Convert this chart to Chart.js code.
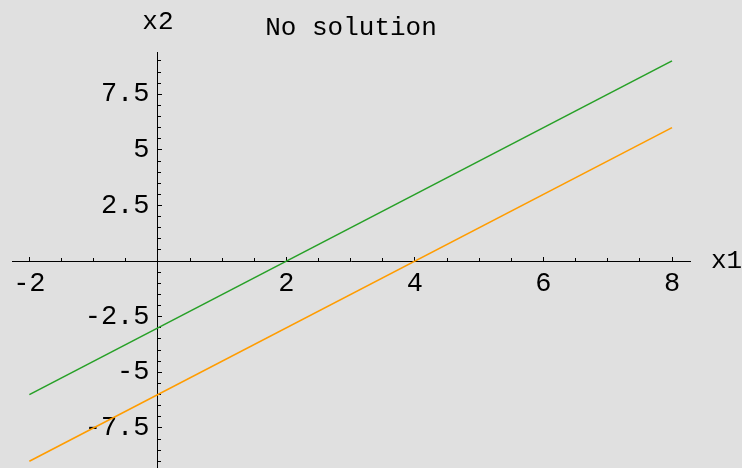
<!DOCTYPE html>
<html>
<head>
<meta charset="utf-8">
<script src="https://cdn.jsdelivr.net/npm/chart.js@4.4.1/dist/chart.umd.min.js"></script>
<style>
  html, body { margin: 0; padding: 0; background: #e0e0e0; }
  #plot { display: block; }
</style>
</head>
<body>
<canvas id="plot" width="742" height="468"></canvas>
<script>
// endpoints of the two lines
const xValues = [-2, 8];
const greenLine = [-6, 9];     // x2 = 1.5 x1 - 3
const orangeLine = [-9, 6];    // x2 = 1.5 x1 - 6

// tick positions (Mathematica style: labelled majors, small minors)
const xMajorTicks = [-2, 2, 4, 6, 8];
const xMinorTicks = [-2, -1.5, -1, -0.5, 0, 0.5, 1, 1.5, 2, 2.5, 3, 3.5, 4, 4.5, 5, 5.5, 6, 6.5, 7, 7.5, 8];
const yMajorTicks = [-7.5, -5, -2.5, 2.5, 5, 7.5];
const yMinorTicks = [-9, -8.5, -8, -7.5, -7, -6.5, -6, -5.5, -5, -4.5, -4, -3.5, -3, -2.5, -2, -1.5, -1, -0.5,
                     0, 0.5, 1, 1.5, 2, 2.5, 3, 3.5, 4, 4.5, 5, 5.5, 6, 6.5, 7, 7.5, 8, 8.5, 9];

const xRange = { min: -2.27, max: 8.28 };
const yRange = { min: -9.3, max: 9.4 };

const MONO = '"Liberation Mono", "Courier New", monospace';

const setTicks = (values) => (scale) => { scale.ticks = values.map(v => ({ value: v })); };

// axes sit inside the plot, so they must not take any layout room
const flatten = (scale) => {
  if (scale.isHorizontal()) scale.height = 0;
  else scale.width = 0;
  scale.paddingTop = 0;
  scale.paddingBottom = 0;
  scale.paddingLeft = 0;
  scale.paddingRight = 0;
};

const background = {
  id: 'background',
  beforeDraw(chart) {
    const { ctx, width, height } = chart;
    ctx.save();
    ctx.fillStyle = '#e0e0e0';
    ctx.fillRect(0, 0, width, height);
    ctx.restore();
  }
};

// axis names "x1" / "x2" next to the axis lines
const axisNames = {
  id: 'axisNames',
  afterDraw(chart) {
    const { ctx, chartArea, scales } = chart;
    ctx.save();
    ctx.fillStyle = '#000';
    ctx.font = '26px ' + MONO;
    ctx.textBaseline = 'middle';
    ctx.textAlign = 'left';
    ctx.fillText('x1', chartArea.right + 21, scales.y.getPixelForValue(0));
    ctx.textAlign = 'center';
    ctx.textBaseline = 'alphabetic';
    ctx.fillText('x2', scales.x.getPixelForValue(0), 29);
    ctx.restore();
  }
};

function axisScale(axis, extra) {
  const range = axis === 'x' ? xRange : yRange;
  return Object.assign({
    type: 'linear',
    axis: axis,
    min: range.min,
    max: range.max,
    afterFit: flatten,
    border: { display: false },
    grid: { drawOnChartArea: false, color: '#000', tickColor: '#000', tickWidth: 1 },
    ticks: { display: false, autoSkip: false }
  }, extra);
}

new Chart(document.getElementById('plot'), {
  type: 'scatter',
  data: {
    datasets: [
      {
        label: 'green',
        data: xValues.map((x, i) => ({ x: x, y: greenLine[i] })),
        showLine: true,
        borderColor: '#27a027',
        borderWidth: 1.6,
        pointRadius: 0
      },
      {
        label: 'orange',
        data: xValues.map((x, i) => ({ x: x, y: orangeLine[i] })),
        showLine: true,
        borderColor: '#ff9c00',
        borderWidth: 1.6,
        pointRadius: 0
      }
    ]
  },
  options: {
    responsive: false,
    animation: false,
    events: [],
    layout: { padding: { left: 12, right: 52, top: 0, bottom: 0 } },
    plugins: {
      legend: { display: false },
      tooltip: { enabled: false },
      title: {
        display: true,
        text: 'No solution',
        fullSize: false,
        color: '#000',
        font: { family: MONO, size: 26, weight: 'normal', lineHeight: 1 },
        padding: { top: 15, bottom: 11 }
      }
    },
    scales: {
      // horizontal axis line with major ticks and labels
      x: axisScale('x', {
        position: { y: 0 },
        afterBuildTicks: setTicks(xMajorTicks),
        border: { display: true, color: '#000', width: 1 },
        grid: { drawOnChartArea: false, tickColor: '#000', tickLength: -5 },
        ticks: {
          autoSkip: false,
          maxRotation: 0,
          padding: 14,
          color: '#000',
          font: { family: MONO, size: 27, lineHeight: 1 },
          callback: v => String(v)
        }
      }),
      xm: axisScale('x', {
        position: { y: 0 },
        afterBuildTicks: setTicks(xMinorTicks),
        grid: { drawOnChartArea: false, tickColor: '#000', tickLength: -3 }
      }),
      // vertical axis line with major ticks
      y: axisScale('y', {
        position: { x: 0 },
        afterBuildTicks: setTicks(yMajorTicks),
        border: { display: true, color: '#000', width: 1 },
        grid: { drawOnChartArea: false, tickColor: '#000', tickLength: -5 }
      }),
      ym: axisScale('y', {
        position: { x: 0 },
        afterBuildTicks: setTicks(yMinorTicks),
        grid: { drawOnChartArea: false, tickColor: '#000', tickLength: -3 }
      }),
      // vertical labels, set a little left of the axis line
      yl: axisScale('y', {
        position: { x: -0.13 },
        afterBuildTicks: setTicks(yMajorTicks),
        grid: { display: false, drawTicks: false },
        ticks: {
          display: true,
          autoSkip: false,
          padding: 0,
          color: '#000',
          font: { family: MONO, size: 27, lineHeight: 1 },
          callback: v => String(v)
        }
      })
    }
  },
  plugins: [background, axisNames]
});
</script>
</body>
</html>
